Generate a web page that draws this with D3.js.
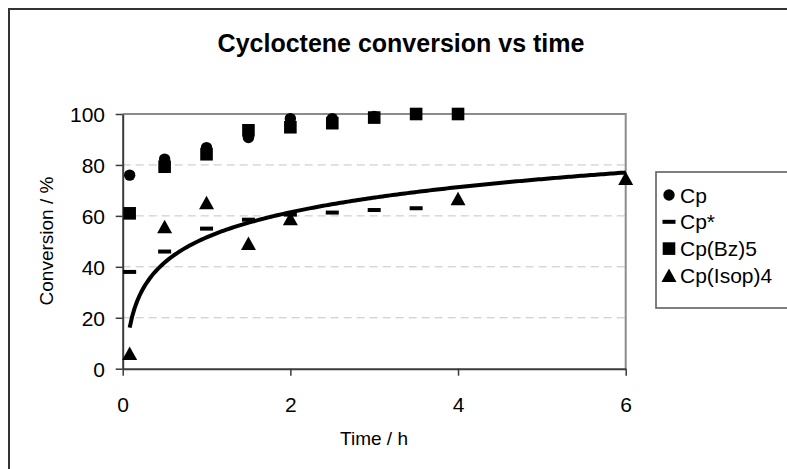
<!DOCTYPE html>
<html><head><meta charset="utf-8">
<script src="https://cdn.jsdelivr.net/npm/d3@7"></script>
<style>
html,body{margin:0;padding:0;background:#fff}
svg{display:block;font-family:Arial,"Liberation Sans",sans-serif}
</style></head>
<body><svg id="chart" width="787" height="469"></svg>
<script>
// data
const tCp=[0.083,0.5,1,1.5,2,2.5,3,3.5,4];
const cp=[76,82.3,86.8,90.8,98.2,98.2,99,100,100];
const tCpStar=[0.083,0.5,1,1.5,2,2.5,3,3.5];
const cpStar=[38,46,55,58.5,60.5,61.3,62.3,63];
const tBz=[0.083,0.5,1,1.5,2,2.5,3,3.5,4];
const cpBz=[61,79.3,84.2,93.6,94.8,96.4,98.6,100,100];
const tIsop=[0.083,0.5,1,1.5,2,4,6];
const cpIsop=[6,55.7,65.2,49.2,58.9,66.7,74.7];
const xTicks=[0,2,4,6];const yTicks=[0,20,40,60,80,100];
const legendNames=['Cp','Cp*','Cp(Bz)5','Cp(Isop)4'];

const svg=d3.select('#chart');
const x=d3.scaleLinear().domain([0,6]).range([122.7,625.7]);
const y=d3.scaleLinear().domain([0,100]).range([368.7,114]);

// outer chart frame (cut by the window at right/bottom)
svg.append('rect').attr('x',9).attr('y',9).attr('width',800).attr('height',480).attr('fill','#fff').attr('stroke','#333').attr('stroke-width',2);

svg.append('text').attr('x',401).attr('y',51.5).attr('text-anchor','middle').attr('font-size',25).attr('font-weight','bold').text('Cycloctene conversion vs time');

// gridlines
svg.append('g').selectAll('line').data(yTicks.filter(d=>d>0&&d<100)).join('line')
  .attr('x1',x(0)).attr('x2',x(6)).attr('y1',d=>y(d)).attr('y2',d=>y(d))
  .attr('stroke','#c4c4c4').attr('stroke-width',1).attr('stroke-dasharray','8,5');

// plot frame top/right
svg.append('path').attr('d',`M${x(0)},${y(100)}H${x(6)}V${y(0)}`).attr('fill','none').attr('stroke','#8c8c8c').attr('stroke-width',2);

const gx=svg.append('g').attr('transform',`translate(0,${y(0)})`)
  .call(d3.axisBottom(x).tickValues(xTicks).tickFormat(d3.format('d')).tickSize(7).tickPadding(21).tickSizeOuter(0));
const gy=svg.append('g').attr('transform',`translate(${x(0)},0)`)
  .call(d3.axisLeft(y).tickValues(yTicks).tickFormat(d3.format('d')).tickSize(7).tickPadding(10.7).tickSizeOuter(0));
[gx,gy].forEach(g=>{
  g.select('.domain').attr('stroke','#3a3a3a').attr('stroke-width',2);
  g.selectAll('.tick line').attr('stroke','#3a3a3a').attr('stroke-width',1.5);
  g.selectAll('.tick text').attr('fill','#000').attr('font-size',21).attr('font-family','Arial,"Liberation Sans",sans-serif');
});
gy.selectAll('.tick text').attr('dy','0.36em');

svg.append('text').attr('x',374).attr('y',445).attr('text-anchor','middle').attr('font-size',19).text('Time / h');
svg.append('text').attr('transform','translate(53,241) rotate(-90)').attr('text-anchor','middle').attr('font-size',19).text('Conversion / %');

// marker shapes
const shapes={
  circle:(g)=>g.append('circle').attr('r',5.7),
  dash:(g)=>g.append('rect').attr('x',-6.5).attr('y',-2).attr('width',13).attr('height',4),
  square:(g)=>g.append('rect').attr('x',-6.3).attr('y',-6.3).attr('width',12.6).attr('height',12.6),
  tri:(g)=>g.append('path').attr('d','M0,-7L7.5,6.5L-7.5,6.5Z')
};
const series=[
  {t:tCp,v:cp,s:'circle'},
  {t:tCpStar,v:cpStar,s:'dash'},
  {t:tBz,v:cpBz,s:'square'},
  {t:tIsop,v:cpIsop,s:'tri'}
];
series.forEach(sr=>{
  const g=svg.append('g').attr('fill','#000');
  sr.t.forEach((t,i)=>{
    const m=g.append('g').attr('transform',`translate(${x(t)},${y(sr.v[i])})`);
    shapes[sr.s](m);
  });
});

// logarithmic trendline fitted to Cp(Isop)4 (least squares, like the spreadsheet's trendline)
const lx=tIsop.map(Math.log);
const mx=d3.mean(lx),my=d3.mean(cpIsop);
const slope=d3.sum(lx,(d,i)=>(d-mx)*(cpIsop[i]-my))/d3.sum(lx,d=>(d-mx)*(d-mx));
const icpt=my-slope*mx;
const tr=d3.range(0,201).map(i=>tIsop[0]+(6-tIsop[0])*i/200);
svg.append('path').datum(tr).attr('fill','none').attr('stroke','#000').attr('stroke-width',4)
  .attr('d',d3.line().x(d=>x(d)).y(d=>y(icpt+slope*Math.log(d))));

// legend
const lg=svg.append('g');
lg.append('rect').attr('x',656).attr('y',172).attr('width',200).attr('height',136).attr('fill','#fff').attr('stroke','#555').attr('stroke-width',1.5);
legendNames.forEach((n,i)=>{
  const cy=195+i*26.8;
  const m=lg.append('g').attr('transform',`translate(669,${cy})`).attr('fill','#000');
  shapes[series[i].s](m);
  lg.append('text').attr('x',680).attr('y',cy).attr('dy','0.36em').attr('font-size',21).text(n);
});
</script></body></html>
